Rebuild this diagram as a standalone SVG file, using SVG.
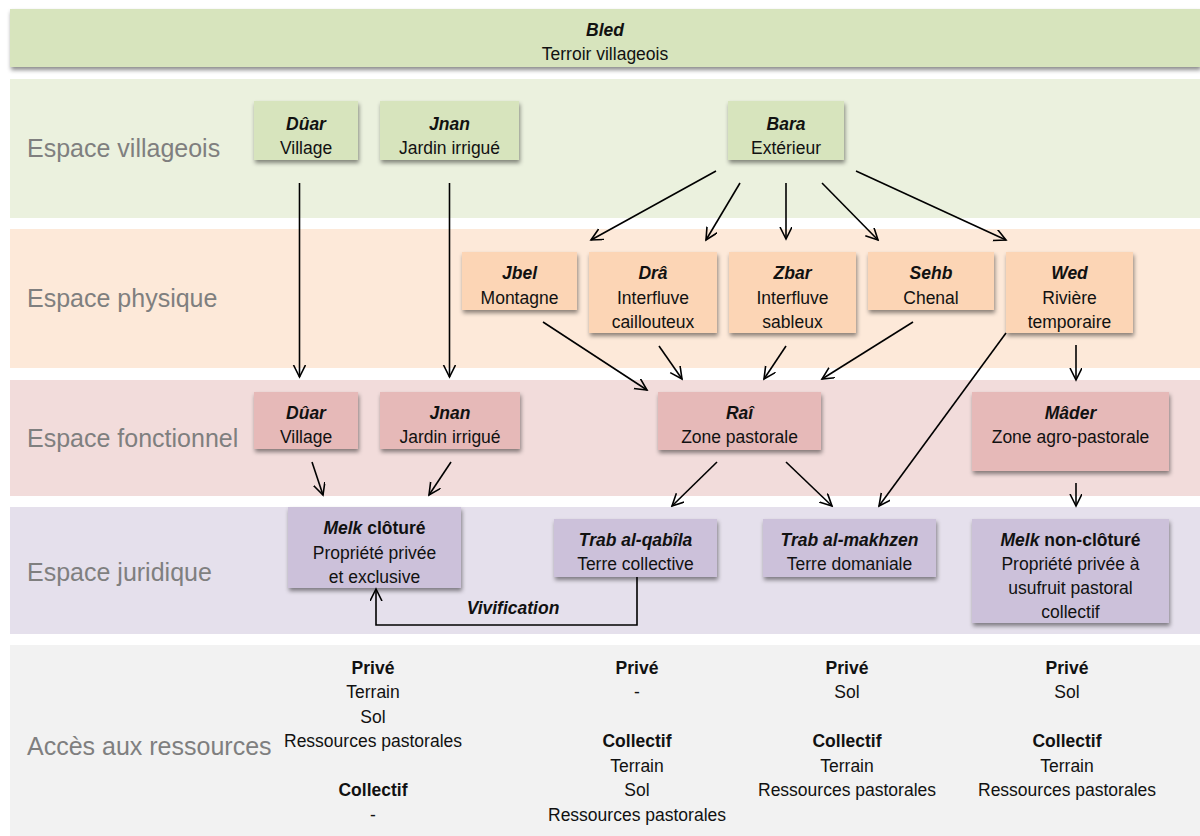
<svg xmlns="http://www.w3.org/2000/svg" width="1200" height="836" viewBox="0 0 1200 836">
<defs>
<filter id="sh" x="-10%" y="-20%" width="120%" height="150%">
<feDropShadow dx="1" dy="3" stdDeviation="2" flood-color="#000" flood-opacity="0.45"/>
</filter>
<marker id="ah" markerWidth="14" markerHeight="14" refX="12" refY="6" orient="auto" markerUnits="userSpaceOnUse">
<path d="M0,0 L12,6 L0,12" fill="none" stroke="#000" stroke-width="1.6"/>
</marker>
</defs>
<style>
text{font-family:"Liberation Sans",Arial,sans-serif;font-size:17.5px;fill:#111;text-anchor:middle}
.lbl{font-size:25px;fill:#7f7f7f;text-anchor:start}
.t{font-weight:bold;font-style:italic}
.b{font-weight:bold}
.n{stroke:none;filter:url(#sh)}
.gv{fill:#d7e4bd}.gp{fill:#fcd5b5}.gf{fill:#e6b9b8}.gj{fill:#ccc1da}
.c{fill:none;stroke:#000;stroke-width:1.6;marker-end:url(#ah)}
</style>
<g id="bands">
<rect x="10" y="79" width="1190" height="139" fill="#ebf1de"/>
<rect x="10" y="229" width="1190" height="139" fill="#fde9d9"/>
<rect x="10" y="380" width="1190" height="116" fill="#f2dcdb"/>
<rect x="10" y="507" width="1190" height="127" fill="#e5e0ec"/>
<rect x="10" y="645" width="1190" height="191" fill="#f2f2f2"/>
<text class="lbl" x="27" y="157">Espace villageois</text>
<text class="lbl" x="27" y="307">Espace physique</text>
<text class="lbl" x="27" y="447">Espace fonctionnel</text>
<text class="lbl" x="27" y="581">Espace juridique</text>
<text class="lbl" x="27" y="755">Accès aux ressources</text>
</g>
<g id="bled">
<rect class="n" x="10" y="9" width="1190" height="58" fill="#d7e4bd"/>
<text x="605" y="36" class="t">Bled</text>
<text x="605" y="60">Terroir villageois</text>
</g>
<g id="v-duar"><rect class="n gv" x="254" y="101" width="104" height="59"/><text x="306" y="130" class="t">Dûar</text><text x="306" y="154">Village</text></g>
<g id="v-jnan"><rect class="n gv" x="380" y="101" width="139" height="59"/><text x="449.5" y="130" class="t">Jnan</text><text x="449.5" y="154">Jardin irrigué</text></g>
<g id="v-bara"><rect class="n gv" x="728" y="101" width="116" height="59"/><text x="786" y="130" class="t">Bara</text><text x="786" y="154">Extérieur</text></g>

<g id="p-jbel"><rect class="n gp" x="462" y="252" width="115" height="58"/><text x="519.5" y="279" class="t">Jbel</text><text x="519.5" y="304">Montagne</text></g>
<g id="p-dra"><rect class="n gp" x="589" y="252" width="128" height="81"/><text x="653" y="279" class="t">Drâ</text><text x="653" y="304">Interfluve</text><text x="653" y="328">caillouteux</text></g>
<g id="p-zbar"><rect class="n gp" x="729" y="252" width="127" height="81"/><text x="792.5" y="279" class="t">Zbar</text><text x="792.5" y="304">Interfluve</text><text x="792.5" y="328">sableux</text></g>
<g id="p-sehb"><rect class="n gp" x="868" y="252" width="126" height="58"/><text x="931" y="279" class="t">Sehb</text><text x="931" y="304">Chenal</text></g>
<g id="p-wed"><rect class="n gp" x="1006" y="252" width="127" height="81"/><text x="1069.5" y="279" class="t">Wed</text><text x="1069.5" y="304">Rivière</text><text x="1069.5" y="328">temporaire</text></g>

<g id="f-duar"><rect class="n gf" x="254" y="392" width="104" height="57"/><text x="306" y="419" class="t">Dûar</text><text x="306" y="443">Village</text></g>
<g id="f-jnan"><rect class="n gf" x="380" y="392" width="140" height="57"/><text x="450" y="419" class="t">Jnan</text><text x="450" y="443">Jardin irrigué</text></g>
<g id="f-rai"><rect class="n gf" x="658" y="392" width="163" height="58"/><text x="739.5" y="419" class="t">Raî</text><text x="739.5" y="443">Zone pastorale</text></g>
<g id="f-mader"><rect class="n gf" x="972" y="392" width="197" height="79"/><text x="1070.5" y="419" class="t">Mâder</text><text x="1070.5" y="443">Zone agro-pastorale</text></g>

<g id="j-melk-cloture"><rect class="n gj" x="288" y="507" width="173" height="81"/><text x="374.5" y="534"><tspan class="t">Melk</tspan><tspan class="b"> clôturé</tspan></text><text x="374.5" y="559">Propriété privée</text><text x="374.5" y="583">et exclusive</text></g>
<g id="j-trab-qabila"><rect class="n gj" x="554" y="519" width="163" height="58"/><text x="635.5" y="546" class="t">Trab al-qabîla</text><text x="635.5" y="570">Terre collective</text></g>
<g id="j-trab-makhzen"><rect class="n gj" x="763" y="519" width="173" height="58"/><text x="849.5" y="546" class="t">Trab al-makhzen</text><text x="849.5" y="570">Terre domaniale</text></g>
<g id="j-melk-noncloture"><rect class="n gj" x="972" y="519" width="197" height="104"/><text x="1070.5" y="546"><tspan class="t">Melk</tspan><tspan class="b"> non-clôturé</tspan></text><text x="1070.5" y="570">Propriété privée à</text><text x="1070.5" y="594">usufruit pastoral</text><text x="1070.5" y="618">collectif</text></g>

<g id="acces">
<text x="373" y="674" class="b">Privé</text><text x="373" y="698">Terrain</text><text x="373" y="723">Sol</text><text x="373" y="747">Ressources pastorales</text><text x="373" y="796" class="b">Collectif</text><text x="373" y="821">-</text>
<text x="637" y="674" class="b">Privé</text><text x="637" y="698">-</text><text x="637" y="747" class="b">Collectif</text><text x="637" y="772">Terrain</text><text x="637" y="796">Sol</text><text x="637" y="821">Ressources pastorales</text>
<text x="847" y="674" class="b">Privé</text><text x="847" y="698">Sol</text><text x="847" y="747" class="b">Collectif</text><text x="847" y="772">Terrain</text><text x="847" y="796">Ressources pastorales</text>
<text x="1067" y="674" class="b">Privé</text><text x="1067" y="698">Sol</text><text x="1067" y="747" class="b">Collectif</text><text x="1067" y="772">Terrain</text><text x="1067" y="796">Ressources pastorales</text>
</g>

<g id="connectors">
<line class="c" x1="299.5" y1="183" x2="299.5" y2="377"/>
<line class="c" x1="449.5" y1="183" x2="449.5" y2="377"/>
<line class="c" x1="716" y1="171" x2="591" y2="240"/>
<line class="c" x1="740" y1="183" x2="706" y2="240"/>
<line class="c" x1="786" y1="183" x2="786" y2="239"/>
<line class="c" x1="822" y1="183" x2="878" y2="240"/>
<line class="c" x1="856" y1="171" x2="1006" y2="240"/>
<line class="c" x1="543" y1="322" x2="647" y2="390"/>
<line class="c" x1="659" y1="346" x2="682" y2="379"/>
<line class="c" x1="786" y1="346" x2="764" y2="379"/>
<line class="c" x1="913" y1="322" x2="822" y2="379"/>
<line class="c" x1="1006" y1="333" x2="879" y2="506"/>
<line class="c" x1="1076" y1="345" x2="1076" y2="380"/>
<line class="c" x1="312" y1="462" x2="323" y2="495"/>
<line class="c" x1="451" y1="462" x2="429" y2="495"/>
<line class="c" x1="717" y1="462" x2="672" y2="506"/>
<line class="c" x1="786" y1="462" x2="832" y2="506"/>
<line class="c" x1="1076" y1="483" x2="1076" y2="506"/>
<path class="c" d="M637,577 V625 H376 V589"/>
<text x="513" y="614" class="t">Vivification</text>
</g>
</svg>
